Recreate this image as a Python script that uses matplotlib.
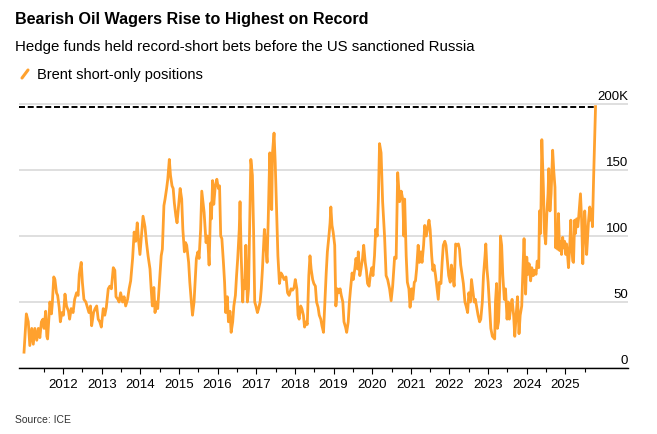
import matplotlib
matplotlib.use("Agg")
import matplotlib.pyplot as plt
from matplotlib.lines import Line2D

plt.rcParams['font.family'] = ['Liberation Sans', 'DejaVu Sans']
plt.rcParams['lines.scale_dashes'] = False

# weekly-ish Brent short-only positions (thousand contracts)
t = [
    2010.99, 2011.05, 2011.10, 2011.14, 2011.19, 2011.23, 2011.27, 2011.32, 2011.36, 2011.40,
    2011.44, 2011.48, 2011.51, 2011.55, 2011.58, 2011.60, 2011.64, 2011.66, 2011.70, 2011.72,
    2011.76, 2011.79, 2011.83, 2011.86, 2011.90, 2011.93, 2011.97, 2012.01,
    2012.05, 2012.09, 2012.14, 2012.17, 2012.21, 2012.26, 2012.30, 2012.35, 2012.39, 2012.42,
    2012.47, 2012.50, 2012.54, 2012.59, 2012.63, 2012.67, 2012.71, 2012.74, 2012.79, 2012.83,
    2012.87, 2012.91, 2012.95, 2012.99,
    2013.04, 2013.08, 2013.12, 2013.17, 2013.21, 2013.25, 2013.30, 2013.34, 2013.37, 2013.42,
    2013.45, 2013.49, 2013.54, 2013.58, 2013.62, 2013.67, 2013.71, 2013.75, 2013.80, 2013.84,
    2013.88, 2013.92, 2013.95, 2013.99,
    2014.03, 2014.07, 2014.12, 2014.16, 2014.20, 2014.25, 2014.28, 2014.31, 2014.35, 2014.38,
    2014.42, 2014.45, 2014.50, 2014.54, 2014.57, 2014.61, 2014.64, 2014.68, 2014.71, 2014.75,
    2014.78, 2014.82, 2014.85, 2014.88, 2014.92, 2014.95, 2014.99,
    2015.03, 2015.07, 2015.10, 2015.14, 2015.17, 2015.20, 2015.25, 2015.28, 2015.32, 2015.35,
    2015.39, 2015.42, 2015.45, 2015.49, 2015.52, 2015.56, 2015.59, 2015.65, 2015.70, 2015.74,
    2015.78, 2015.82, 2015.84, 2015.87, 2015.90, 2015.94, 2015.98,
    2016.02, 2016.05, 2016.08, 2016.11, 2016.15, 2016.18, 2016.21, 2016.25, 2016.28, 2016.32,
    2016.35, 2016.39, 2016.42, 2016.46, 2016.49, 2016.52, 2016.56, 2016.58, 2016.61, 2016.65,
    2016.67, 2016.70, 2016.73, 2016.77, 2016.80, 2016.83, 2016.86, 2016.90, 2016.93, 2016.96,
    2016.99,
    2017.03, 2017.06, 2017.10, 2017.13, 2017.16, 2017.21, 2017.24, 2017.28, 2017.31, 2017.35,
    2017.37, 2017.40, 2017.42, 2017.46, 2017.49, 2017.53, 2017.56, 2017.60, 2017.64, 2017.68,
    2017.72, 2017.77, 2017.81, 2017.85, 2017.90, 2017.94, 2017.98,
    2018.01, 2018.05, 2018.08, 2018.11, 2018.15, 2018.18, 2018.22, 2018.25, 2018.29, 2018.32,
    2018.36, 2018.39, 2018.42, 2018.46, 2018.49, 2018.53, 2018.56, 2018.60, 2018.63, 2018.67,
    2018.70, 2018.74, 2018.77, 2018.81, 2018.84, 2018.88, 2018.91, 2018.93, 2018.96, 2018.99,
    2019.03, 2019.06, 2019.10, 2019.13, 2019.17, 2019.20, 2019.24, 2019.27, 2019.31, 2019.34,
    2019.38, 2019.41, 2019.44, 2019.48, 2019.51, 2019.55, 2019.58, 2019.62, 2019.64, 2019.68,
    2019.71, 2019.75, 2019.78, 2019.82, 2019.85, 2019.88, 2019.92, 2019.95, 2019.99,
    2020.02, 2020.06, 2020.09, 2020.13, 2020.16, 2020.19, 2020.23, 2020.27, 2020.32, 2020.36,
    2020.40, 2020.45, 2020.49, 2020.53, 2020.58, 2020.62, 2020.66, 2020.71, 2020.75, 2020.79,
    2020.82, 2020.84, 2020.88, 2020.91, 2020.95, 2020.98,
    2021.02, 2021.05, 2021.09, 2021.12, 2021.15, 2021.19, 2021.22, 2021.26, 2021.29, 2021.33,
    2021.36, 2021.40, 2021.43, 2021.47, 2021.50, 2021.54, 2021.57, 2021.60, 2021.64, 2021.67,
    2021.71, 2021.74, 2021.78, 2021.81, 2021.84, 2021.88, 2021.91, 2021.95, 2021.98,
    2022.02, 2022.05, 2022.09, 2022.12, 2022.16, 2022.19, 2022.23, 2022.26, 2022.29, 2022.33,
    2022.36, 2022.40, 2022.43, 2022.47, 2022.50, 2022.54, 2022.57, 2022.61, 2022.64, 2022.67,
    2022.71, 2022.74, 2022.78, 2022.81, 2022.85, 2022.88, 2022.92, 2022.94, 2022.97,
    2023.00, 2023.04, 2023.07, 2023.11, 2023.14, 2023.17, 2023.19, 2023.22, 2023.24, 2023.27,
    2023.30, 2023.32, 2023.35, 2023.38, 2023.42, 2023.45, 2023.49, 2023.52, 2023.55, 2023.59,
    2023.62, 2023.66, 2023.69, 2023.73, 2023.76, 2023.80, 2023.83, 2023.87, 2023.90, 2023.93,
    2023.97,
    2024.00, 2024.03, 2024.06, 2024.10, 2024.13, 2024.17, 2024.20, 2024.24, 2024.27, 2024.31,
    2024.33, 2024.36, 2024.39, 2024.43, 2024.46, 2024.49, 2024.52, 2024.55, 2024.57, 2024.60,
    2024.63, 2024.67, 2024.70, 2024.73, 2024.75, 2024.77, 2024.80, 2024.82, 2024.85, 2024.88,
    2024.90, 2024.93, 2024.95, 2024.98,
    2025.01, 2025.03, 2025.06, 2025.08, 2025.11, 2025.14, 2025.16, 2025.19, 2025.21, 2025.24,
    2025.26, 2025.29, 2025.32, 2025.34, 2025.37, 2025.39, 2025.42, 2025.45, 2025.47, 2025.50,
    2025.52, 2025.55, 2025.58, 2025.60, 2025.63, 2025.65, 2025.68, 2025.70, 2025.73, 2025.76,
    2025.78,
]
positions = [
    12, 41, 35, 17, 30, 18, 30, 21, 30, 23,
    35, 37, 30, 43, 24, 22, 40, 50, 41, 48,
    69, 67, 57, 55, 46, 35, 42, 40,
    56, 47, 43, 37, 45, 42, 52, 57, 55, 71,
    80, 65, 52, 50, 46, 42, 47, 32, 42, 45,
    47, 37, 35, 31,
    45, 40, 46, 60, 62, 60, 76, 74, 54, 52,
    50, 57, 50, 54, 47, 52, 60, 66, 83, 103,
    96, 110, 98, 86,
    100, 115, 107, 95, 85, 75, 60, 47, 61, 42,
    50, 45, 67, 85, 90, 123, 128, 136, 143, 158,
    146, 138, 136, 125, 115, 110, 123,
    136, 128, 105, 88, 95, 93, 80, 65, 50, 40,
    50, 67, 83, 88, 83, 105, 134, 118, 95, 100,
    78, 125, 113, 142, 124, 138, 143,
    136, 138, 100, 98, 80, 65, 42, 54, 35, 43,
    27, 35, 47, 55, 70, 83, 105, 126, 85, 50,
    66, 60, 93, 50, 60, 110, 158, 146, 105, 50,
    47,
    42, 45, 50, 60, 75, 105, 95, 80, 113, 163,
    138, 120, 163, 178, 156, 115, 85, 64, 72, 70,
    67, 69, 57, 55, 60, 59, 61,
    67, 60, 40, 37, 47, 45, 40, 31, 35, 33,
    70, 85, 75, 67, 64, 62, 50, 46, 40, 37,
    32, 27, 47, 72, 88, 100, 110, 122, 108, 103,
    93, 47, 60, 57, 60, 55, 50, 35, 31, 27,
    35, 50, 60, 72, 67, 75, 83, 75, 88, 70,
    75, 83, 93, 80, 74, 64, 62, 70, 76,
    70, 85, 105, 100, 128, 170, 163, 126, 100, 70,
    67, 60, 51, 62, 84, 83, 148, 126, 134, 128,
    100, 128, 85, 65, 60, 46,
    60, 52, 65, 66, 75, 93, 80, 88, 80, 93,
    108, 100, 105, 112, 105, 85, 74, 78, 70, 62,
    52, 65, 64, 80, 93, 96, 93, 80, 70,
    65, 78, 70, 62, 94, 93, 94, 90, 78, 70,
    64, 50, 47, 42, 57, 50, 67, 57, 50, 52,
    45, 40, 35, 37, 50, 70, 85, 94, 75,
    65, 45, 30, 24, 23, 22, 50, 64, 30, 35,
    60, 100, 93, 70, 52, 60, 37, 50, 37, 47,
    52, 40, 24, 42, 54, 26, 40, 47, 74, 98,
    56,
    84, 71, 79, 66, 76, 70, 74, 71, 81, 76,
    119, 102, 173, 137, 102, 94, 117, 132, 151, 119,
    132, 165, 149, 137, 91, 102, 90, 117, 89, 96,
    86, 99, 91, 96,
    86, 94, 84, 76, 91, 112, 94, 81, 80, 112,
    102, 113, 107, 113, 124, 132, 112, 79, 99, 119,
    107, 86, 102, 112, 122, 112, 120, 107, 144, 177,
    198,
]

year_ticks = list(range(2012, 2026))
half_year_ticks = [y + 0.5 for y in range(2011, 2026)]
y_levels = [0, 50, 100, 150, 200]
y_labels = ['0', '50', '100', '150', '200K']

orange = '#FFA12E'

fig = plt.figure(figsize=(6.57, 4.35), dpi=100)
ax = fig.add_axes([19/657, 1 - 369/435, (628 - 19)/657, (369 - 103.7)/435])
ax.set_xlim(2010.86, 2026.62)
ax.set_ylim(0, 201)

ax.set_yticks(y_levels)
ax.yaxis.grid(True, color='#dcdcdc', lw=1.3)
ax.set_axisbelow(True)
ax.tick_params(axis='y', length=0, labelleft=False)

for s in ['top', 'right', 'left']:
    ax.spines[s].set_visible(False)
ax.spines['bottom'].set_color('black')
ax.spines['bottom'].set_linewidth(1.0)

ax.set_xticks(year_ticks)
ax.set_xticklabels([str(y) for y in year_ticks])
ax.set_xticks(half_year_ticks, minor=True)
ax.tick_params(axis='x', which='major', length=4.3, width=0.8, color='black',
               labelsize=9.5, pad=3)
ax.tick_params(axis='x', which='minor', length=2.9, width=0.8, color='black')

# record line
record = max(positions)
peak_t = t[positions.index(record)]
ax.hlines(record, ax.get_xlim()[0], peak_t, colors='black', lw=1.4,
          linestyles=(0, (4.3, 2.0)), zorder=2)

ax.plot(t, positions, color=orange, lw=2.0, solid_joinstyle='round', zorder=3)

for v, lab in zip(y_levels, y_labels):
    ax.annotate(lab, xy=(1, v), xytext=(0, 3.3), xycoords=('axes fraction', 'data'),
                textcoords='offset points', ha='right', va='baseline', fontsize=9.5)

fig.text(15/657, 1 - 12/435, 'Bearish Oil Wagers Rise to Highest on Record',
         fontsize=11.6, fontweight='bold', va='top', ha='left')
fig.text(15/657, 1 - 40/435, 'Hedge funds held record-short bets before the US sanctioned Russia',
         fontsize=10.8, va='top', ha='left')
fig.add_artist(Line2D([22/657, 28/657], [1 - 79/435, 1 - 71/435], color=orange, lw=2.2,
                      solid_capstyle='round'))
fig.text(37/657, 1 - 75/435, 'Brent short-only positions', fontsize=10.5, va='center', ha='left')
fig.text(15/657, 1 - 420/435, 'Source: ICE', fontsize=7.5, va='center', ha='left', color='#333333')

fig.savefig('out.png', dpi=100)
